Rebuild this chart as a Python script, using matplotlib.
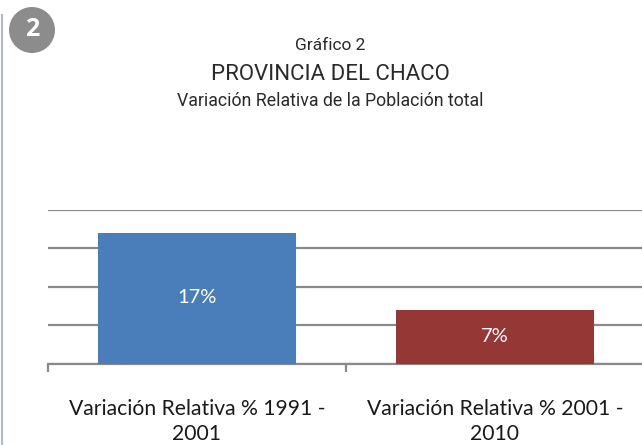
import matplotlib
matplotlib.use("Agg")
import matplotlib.pyplot as plt
from matplotlib.lines import Line2D
from matplotlib.patches import Ellipse

categories = ["Variación Relativa % 1991 -\n2001", "Variación Relativa % 2001 -\n2010"]
values = [17, 7]
bar_labels = ["17%", "7%"]
colors = ["#4a7ebb", "#953735"]
y_ticks = [0, 5, 10, 15, 20]

title_font = ["Roboto", "DejaVu Sans"]
cat_font = ["Lato", "DejaVu Sans"]

fig = plt.figure(figsize=(6.42, 4.45), dpi=100)
fig.patch.set_facecolor("white")

W, H = 642, 445
left, right, top, bottom = 48, 644, 209.5, 364
ax = fig.add_axes([left / W, 1 - bottom / H, (right - left) / W, (bottom - top) / H])
ax.set_facecolor("none")

x = list(range(len(categories)))
bars = ax.bar(x, values, width=0.665, color=colors, zorder=3)
ax.set_xlim(-0.5, len(categories) - 0.5)
ax.set_ylim(0, 20)
ax.set_yticks(y_ticks)
ax.yaxis.grid(True, color="#8a8a8a", linewidth=1.6, zorder=0)
ax.tick_params(axis="y", left=False, labelleft=False)
for s in ["top", "right", "left"]:
    ax.spines[s].set_visible(False)
ax.spines["bottom"].set_color("#8a8a8a")
ax.spines["bottom"].set_linewidth(1.6)
ax.set_xticks([-0.5, 0.5, 1.5])
ax.set_xticklabels([])
ax.tick_params(axis="x", length=6, width=1.6, color="#8a8a8a")

for xi, v, lab in zip(x, values, bar_labels):
    ax.text(xi, v / 2 + 0.1, lab, ha="center", va="center", color="white",
            fontsize=14.5, family=cat_font, zorder=4)

for xi, cat in zip(x, categories):
    ax.annotate(cat, xy=(xi, 0), xycoords="data", xytext=(0, -25),
                textcoords="offset points", ha="center", va="top",
                fontsize=15.2, family=cat_font, color="#1a1a1a", linespacing=1.3)

# titles
fig.text(330 / W, 1 - 45 / H, "Gráfico 2", ha="center", va="center",
         fontsize=12.5, family=title_font, color="#2a2a2a")
fig.text(330 / W, 1 - 74 / H, "PROVINCIA DEL CHACO", ha="center", va="center",
         fontsize=16, family=title_font, color="#2a2a2a")
fig.text(330 / W, 1 - 101 / H, "Variación Relativa de la Población total", ha="center", va="center",
         fontsize=12.8, family=title_font, color="#2a2a2a")

# badge
badge = Ellipse((32 / W, 1 - 30 / H), 46 / W, 46 / H, transform=fig.transFigure,
                facecolor="#8c8c8c", edgecolor="none")
fig.add_artist(badge)
fig.text(32 / W, 1 - 30 / H, "2", ha="center", va="center", color="white",
         fontsize=18, fontweight="bold", family=["Open Sans", "DejaVu Sans"])

# left page border
fig.add_artist(Line2D([2 / W, 2 / W], [0, 1 - 15 / H], transform=fig.transFigure,
                      color="#b5b9c6", linewidth=1.5))

fig.savefig("out.png", dpi=100)
